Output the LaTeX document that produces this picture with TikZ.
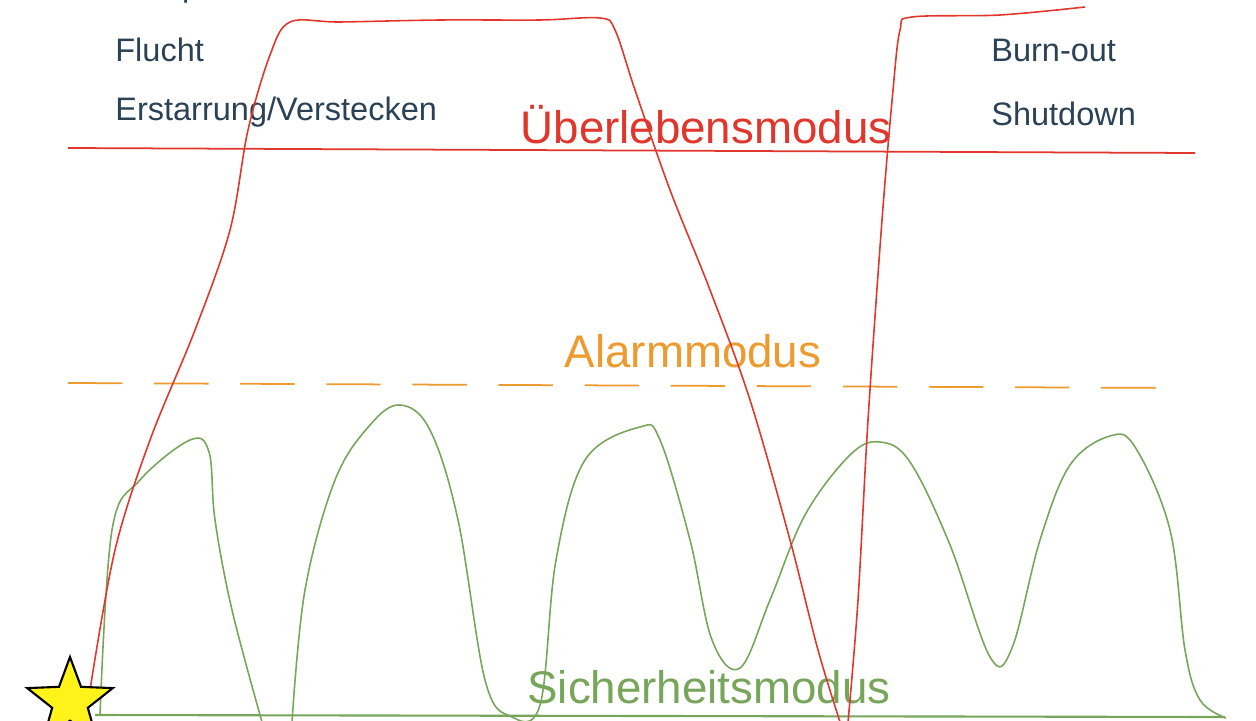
\documentclass[tikz,border=0pt]{standalone}
\usepackage{fontspec}
\setmainfont{Liberation Sans}
\usetikzlibrary{shapes.geometric}
\definecolor{txt}{HTML}{2B4256}
\definecolor{rd}{HTML}{E0362C}
\definecolor{org}{HTML}{EE9A2E}
\definecolor{grn}{HTML}{77A55A}
\begin{document}
\begin{tikzpicture}[x=0.02cm,y=-0.02cm,
  lbl/.style={text=txt,font=\fontsize{18.5}{21}\selectfont,anchor=west,inner sep=0},
  big/.style={font=\fontsize{26}{30}\selectfont,inner sep=0}]
\useasboundingbox (0,0) rectangle (1256,720);
\begin{scope}
\clip (0,0) rectangle (1256,720);
\node[lbl] (kampf) at (115,-12) {Kampf};
\node[lbl] (flucht) at (115,50) {Flucht};
\node[lbl] (erst) at (115,112) {Erstarrung/Verstecken};
\node[lbl] (burn) at (991,50) {Burn-out};
\node[lbl] (shut) at (991,114) {Shutdown};
\node[big,text=rd] (ueb) at (706,125) {Überlebensmodus};
\node[big,text=org] (alarm) at (693,351) {Alarmmodus};
\node[big,text=grn] (sich) at (709,687) {Sicherheitsmodus};
\coordinate (r1) at (68,148); \coordinate (r2) at (1195,153);
\draw[rd,line width=1pt] (r1) -- (r2);
\coordinate (o1) at (68,383); \coordinate (o2) at (1185,388);
\draw[org,line width=1pt,dash pattern=on 31pt off 18pt] (o1) -- (o2);
\coordinate (g1) at (95,715); \coordinate (g2) at (1225,717);
\draw[grn,line width=1.2pt] (g1) -- (g2);
\draw[grn,line width=0.9pt] plot[smooth,tension=0.6] coordinates {
(100,715) (112,530) (140,480) (190,440) (209,452) (215,520) (232,610) (262,722)};
\draw[grn,line width=0.9pt] plot[smooth,tension=0.6] coordinates {
(292,722) (305,590) (335,480) (370,425) (400,405) (430,430) (458,520) (485,680) (510,716) (540,705)
(556,560) (585,460) (640,427) (660,440) (690,540) (712,640) (740,668) (770,600) (805,515) (850,455)
(880,442) (910,462) (950,545) (990,657) (1012,648) (1040,540) (1070,465) (1110,436) (1135,447) (1170,530)
(1185,650) (1200,700) (1226,718)};
\draw[rd,line width=0.9pt] plot[smooth,tension=0.55] coordinates {
(90,690) (115,550) (150,440) (195,330) (230,230) (248,130) (270,55) (290,22) (340,22) (440,20) (540,20)
(600,18) (615,30) (635,90) (670,190) (710,290) (750,400) (790,540) (818,650) (840,722)};
\draw[rd,line width=0.9pt] plot[smooth,tension=0.55] coordinates {
(848,722) (858,600) (868,420) (882,220) (893,90) (900,30) (912,17) (1000,15) (1085,7)};
\end{scope}
\node[star,star points=5,star point ratio=2.4,draw=black,line width=1.2pt,fill=yellow!90!white,minimum size=1.8cm,inner sep=0] (star) at (70,702) {};
\end{tikzpicture}
\end{document}
